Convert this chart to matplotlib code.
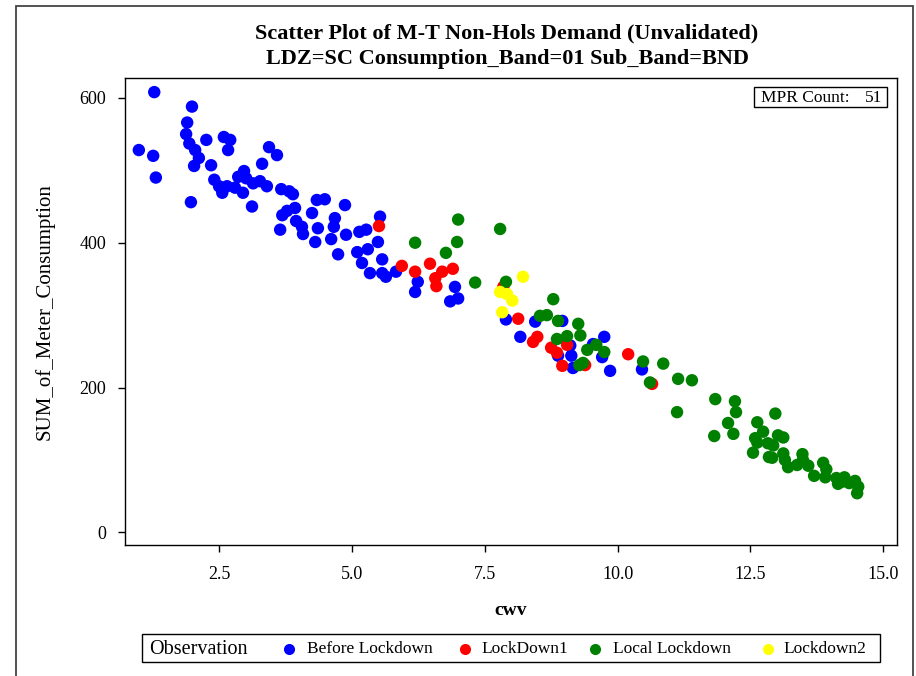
import matplotlib
matplotlib.use("Agg")
import matplotlib.pyplot as plt
from matplotlib.patches import Rectangle
from matplotlib.lines import Line2D

plt.rcParams['font.family'] = ['Liberation Serif', 'DejaVu Serif']

# data (cwv, SUM_of_Meter_Consumption)
before_x = [1.28, 0.99, 1.26, 1.31, 1.99, 1.90, 1.88, 1.94, 2.05, 2.12, 2.03, 1.97, 2.26, 2.59, 2.71,
            2.67, 2.35, 2.41, 2.50, 2.56, 2.65, 2.80, 2.95, 2.86, 2.97, 3.01, 3.14, 3.27, 3.40, 3.12,
            3.31, 3.44, 3.59, 3.67, 3.82, 3.89, 3.69, 3.78, 3.93, 3.95, 4.06, 4.08, 3.65, 4.25, 4.34,
            4.36, 4.31, 4.49, 4.87, 4.68, 4.66, 4.61, 4.89, 4.74, 5.14, 5.27, 5.10, 5.30, 5.49, 5.53,
            5.19, 5.57, 5.34, 5.57, 5.64, 5.83, 6.24, 6.19, 6.94, 7.00, 6.85, 7.90, 8.17, 8.45, 8.96,
            9.54, 9.75, 9.71, 8.88, 9.13, 9.16, 9.86, 10.46, 9.11]
before_y = [608, 528, 520, 490, 588, 566, 550, 537, 528, 517, 506, 456, 542, 546, 542,
            528, 507, 487, 478, 469, 478, 476, 469, 491, 499, 489, 482, 485, 478, 450,
            509, 532, 521, 474, 471, 467, 438, 444, 448, 430, 422, 412, 418, 441, 459,
            420, 401, 460, 452, 434, 422, 405, 411, 384, 415, 418, 387, 391, 401, 436,
            372, 377, 358, 358, 353, 360, 346, 332, 339, 323, 319, 294, 270, 291, 292,
            260, 270, 242, 244, 244, 227, 223, 225, 258]

lock1_x = [5.51, 5.94, 6.19, 6.47, 6.70, 6.90, 6.57, 6.59, 7.85, 8.13, 8.49, 8.41, 9.05, 8.75,
           8.86, 8.96, 9.39, 10.20, 10.65]
lock1_y = [423, 368, 360, 371, 360, 364, 351, 340, 339, 295, 270, 263, 259, 255,
           248, 230, 231, 246, 205]

local_x = [7.00, 6.19, 6.98, 6.77, 7.32, 7.79, 7.90, 8.79, 8.54, 8.67, 8.88, 8.86, 9.05, 9.26,
           9.30, 9.43, 9.60, 9.75, 9.28, 9.35, 10.48, 10.61, 10.86, 11.14, 11.40, 11.12, 11.84,
           12.21, 12.23, 11.82, 12.08, 12.18, 12.63, 12.97, 12.55, 12.59, 12.74, 12.83, 12.93,
           13.02, 13.12, 12.63, 12.85, 12.91, 13.12, 13.15, 13.21, 13.38, 13.48, 13.49, 13.59,
           13.70, 13.87, 13.93, 13.91, 14.12, 14.15, 14.27, 14.23, 14.36, 14.47, 14.53, 14.51]
local_y = [432, 400, 401, 386, 345, 419, 346, 322, 299, 300, 292, 267, 271, 288,
           272, 252, 259, 249, 231, 234, 236, 207, 233, 212, 210, 166, 184,
           181, 166, 133, 151, 136, 152, 164, 110, 130, 139, 123, 120,
           134, 131, 124, 104, 103, 109, 100, 90, 93, 108, 100, 92,
           78, 96, 87, 76, 75, 67, 76, 70, 68, 71, 63, 54]

lock2_x = [8.22, 7.79, 7.92, 8.02, 7.83]
lock2_y = [353, 332, 329, 320, 304]

groups = ['Before Lockdown', 'LockDown1', 'Local Lockdown', 'Lockdown2']
colors = ['#0000ff', '#ff0000', '#008000', '#ffff00']
xs = [before_x, lock1_x, local_x, lock2_x]
ys = [before_y, lock1_y, local_y, lock2_y]

W, H = 916, 676
fig = plt.figure(figsize=(W / 100, H / 100), dpi=100)


def fx(px):
    return px / W


def fy(py):
    return 1 - py / H


# outer frame
fig.add_artist(Rectangle((fx(16), fy(690)), fx(913) - fx(16), fy(6) - fy(690),
                         transform=fig.transFigure, fill=False, edgecolor='#444444', lw=1.3))

ax = fig.add_axes([fx(124.5), fy(545), fx(897) - fx(124.5), fy(78) - fy(545)])
for gx, gy, c in zip(xs, ys, colors):
    ax.scatter(gx, gy, s=80, color=c, edgecolors='none', zorder=3)

ax.set_xlim(0.72, 15.26)
ax.set_ylim(-17.5, 627.5)
ax.set_xticks([2.5, 5.0, 7.5, 10.0, 12.5, 15.0])
ax.set_xticklabels(['2.5', '5.0', '7.5', '10.0', '12.5', '15.0'])
ax.set_yticks([0, 200, 400, 600])
ax.tick_params(direction='out', length=5, width=1, labelsize=13)
ax.tick_params(axis='x', pad=10)
ax.tick_params(axis='y', pad=8)
for sp in ax.spines.values():
    sp.set_linewidth(1)

ax.set_xlabel('cwv', fontsize=14, fontweight='bold', labelpad=14)
ax.set_ylabel('SUM_of_Meter_Consumption', fontsize=15, labelpad=18)

fig.text(fx(507), fy(33), 'Scatter Plot of M-T Non-Hols Demand (Unvalidated)', ha='center',
         va='center', fontsize=16, fontweight='bold')
fig.text(fx(507), fy(59), 'LDZ=SC Consumption_Band=01 Sub_Band=BND', ha='center',
         va='center', fontsize=16, fontweight='bold')

# MPR count box
fig.add_artist(Rectangle((fx(754), fy(107)), fx(887) - fx(754), fy(87) - fy(107),
                         transform=fig.transFigure, fill=True, facecolor='white',
                         edgecolor='black', lw=1, zorder=5))
fig.text(fx(761), fy(97.5), 'MPR Count:', ha='left', va='center', fontsize=12.5, zorder=6)
fig.text(fx(882), fy(97.5), '51', ha='right', va='center', fontsize=12.5, zorder=6)

# legend box
fig.add_artist(Rectangle((fx(142), fy(662)), fx(880) - fx(142), fy(634) - fy(662),
                         transform=fig.transFigure, fill=False, edgecolor='black', lw=1))
fig.text(fx(149), fy(649), 'Observation', ha='left', va='center', fontsize=14.5)
dot_px = [289, 465, 595, 768]
lab_px = [307, 481, 613, 783]
for d, l, c, g in zip(dot_px, lab_px, colors, groups):
    fig.add_artist(Line2D([fx(d)], [fy(649)], marker='o', markersize=8, color=c,
                          markeredgewidth=0, transform=fig.transFigure))
    fig.text(fx(l), fy(649), g, ha='left', va='center', fontsize=12.5)

fig.savefig('out.png', dpi=100)
